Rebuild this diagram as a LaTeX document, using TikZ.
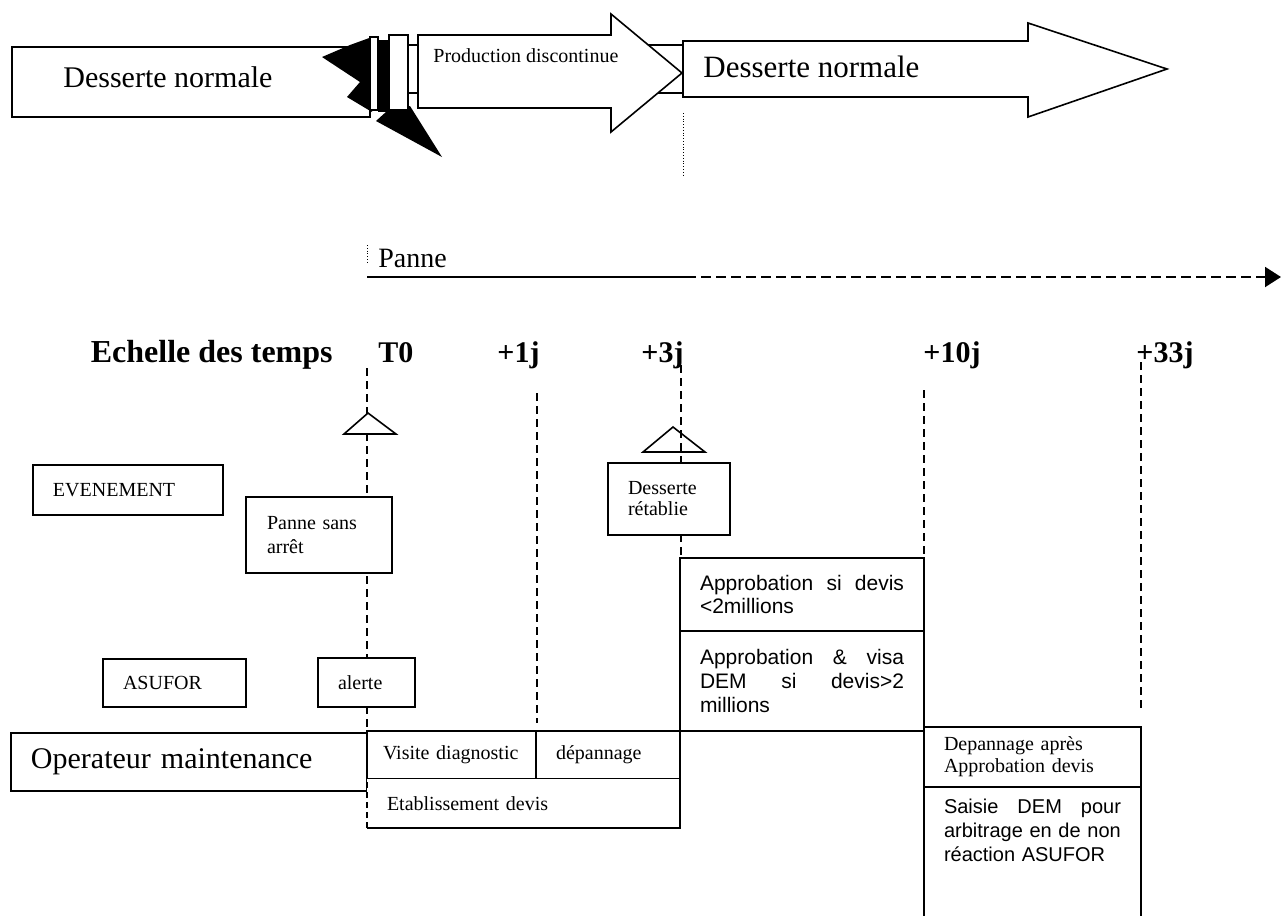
\documentclass[tikz,border=0pt]{standalone}
\usepackage{fontspec}
\setmainfont{Liberation Serif}
\newfontfamily\arialfont{Liberation Sans}
\usetikzlibrary{positioning,arrows.meta}
\tikzset{
	box/.style={draw,fill=white,line width=.7pt,anchor=north west,align=left,inner xsep=10pt,inner ysep=0pt,outer sep=0pt,font=\fontsize{10}{12}\selectfont},
	sbox/.style={box,font=\arialfont\fontsize{10.5}{11.5}\selectfont},
	tick/.style={anchor=base west,inner sep=0pt,font=\bfseries\fontsize{15}{18}\selectfont},
	timeline/.style={dash pattern=on 4pt off 2.5pt,line width=.6pt},
	band/.style={draw,fill=white,line width=.8pt},
	label/.style={anchor=west,inner sep=0pt},
}

\begin{document}
\begin{tikzpicture}[x=0.5pt,y=-0.5pt]
	\useasboundingbox (0,0) rectangle (1281,916);

	% bande du haut
	\draw[band] (370,45) rectangle (683,93);
	\draw[band] (12,47) rectangle (370,117);
	\fill (372,37) -- (350,45) -- (322,57) -- (360,82) -- (347,97) -- (372,112) -- cycle;
	\fill (378,40) rectangle (389,112);
	\fill (376,121) -- (387,111) -- (410,106) -- (442,157) -- cycle;
	\draw[band] (370,37) rectangle (378,110);
	\draw[band] (389,35) rectangle (408,110);
	\draw[band] (418,35) -- (611,35) -- (611,14) -- (682,73) -- (611,132) -- (611,108) -- (418,108) -- cycle;
	\draw[band] (683,41) -- (1028,41) -- (1028,23) -- (1167,69) -- (1028,117) -- (1028,97) -- (683,97) -- cycle;
	\node[label,font=\fontsize{15}{18}\selectfont] (dn1) at (63,77) {Desserte normale};
	\node[label,font=\fontsize{10}{12}\selectfont] (prod) at (433,56) {Production discontinue};
	\node[label,font=\fontsize{15.5}{18}\selectfont] (dn2) at (703,67) {Desserte normale};
	\draw[densely dotted,line width=.4pt] (683,113) -- (683,175);

	% panne
	\draw[densely dotted,line width=.4pt] (367,245) -- (367,262);
	\node[label,font=\fontsize{14}{16}\selectfont] (panne) at (378,258) {Panne};
	\coordinate (p0) at (367,277);
	\coordinate (p1) at (686,277);
	\coordinate (p2) at (1281,277);
	\draw[line width=1pt] (p0) -- (p1);
	\draw[line width=1pt,dash pattern=on 5pt off 2.5pt,-{Triangle[length=8pt,width=10pt]}] (p1) -- (p2);

	% echelle des temps
	\node[tick,anchor=base east,font=\bfseries\fontsize{16}{18}\selectfont] (ech) at (333,362) {Echelle des temps};
	\node[tick] (t0) at (378,362) {T0};
	\node[tick] (t1) at (497,362) {+1j};
	\node[tick] (t3) at (641,362) {+3j};
	\node[tick] (t10) at (923,362) {+10j};
	\node[tick] (t33) at (1136,362) {+33j};
	\coordinate (v0a) at (367,368);
	\coordinate (v0b) at (367,731);
	\coordinate (v1a) at (537,393);
	\coordinate (v1b) at (537,723);
	\coordinate (v3a) at (681,365);
	\coordinate (v3b) at (681,558);
	\coordinate (v10a) at (924,390);
	\coordinate (v10b) at (924,558);
	\coordinate (v33a) at (1141,362);
	\coordinate (v33b) at (1141,708);
	\draw[timeline] (v0a) -- (v0b);
	\draw[timeline] (v1a) -- (v1b);
	\draw[timeline] (v3a) -- (v3b);
	\draw[timeline] (v10a) -- (v10b);
	\draw[timeline] (v33a) -- (v33b);
	\draw[fill=white,line width=.8pt] (344,434) -- (368,413) -- (396,434) -- cycle;
	\draw[line width=.8pt] (643,452) -- (673,427) -- (705,452) -- cycle;

	% acteurs et evenements
	\node[box,minimum height=25pt,text width=75pt] (evt) at (33,465) {EVENEMENT};
	\node[box,minimum height=38pt,text width=52pt,inner xsep=10.5pt] (pan) at (246,497) {Panne sans\\arrêt};
	\node[box,minimum height=36pt,text width=41pt,font=\fontsize{10}{10.5}\selectfont] (des) at (608,463) {Desserte\\rétablie};
	\node[box,minimum height=24pt,text width=51.5pt] (asu) at (103,659) {ASUFOR};
	\node[box,minimum height=24.5pt,text width=28.5pt] (ale) at (318,658) {alerte};
	\node[box,minimum height=29pt,text width=158pt,font=\fontsize{15}{18}\selectfont] (opm) at (11,733) {Operateur maintenance};
	\node[box,minimum height=24pt,text width=68.5pt,inner xsep=8pt] (vis) at (367,731) {Visite diagnostic};
	\node[box,minimum height=24pt,text width=52pt] (dep) at (vis.north east) {dépannage};
	\node[box,draw=none,minimum height=24.5pt,text width=136.5pt] (eta) at (vis.south west) {Etablissement devis};
	\draw[line width=.7pt] (eta.north east) -- (eta.south east) -- (eta.south west);
	\draw[line width=.7pt,densely dashed] (eta.south west) -- (eta.north west);
	\node[sbox,minimum height=36.5pt,text width=102pt] (ap1) at (680,558) {Approbation\hfill si\hfill devis\\<2millions};
	\node[sbox,minimum height=50pt,text width=102pt,font=\arialfont\fontsize{10.5}{12}\selectfont] (ap2) at (ap1.south west) {Approbation\hfill\&\hfill visa\\DEM\hfill si\hfill devis>2\\millions};
	\node[box,minimum height=30pt,text width=88.5pt,font=\fontsize{10}{11}\selectfont] (dpa) at (924,727) {Depannage après\\Approbation devis};
	\node[sbox,draw=none,fill=none,text width=88.5pt,inner ysep=6pt,font=\arialfont\fontsize{10}{12}\selectfont] (sai) at (dpa.south west) {Saisie\hfill DEM\hfill pour\\arbitrage en de non\\réaction ASUFOR};
	\coordinate (sw) at (924,916);
	\coordinate (se) at (1141,916);
	\draw[line width=.7pt] (dpa.south west) -- (sw);
	\draw[line width=.7pt] (dpa.south east) -- (se);
\end{tikzpicture}
\end{document}
